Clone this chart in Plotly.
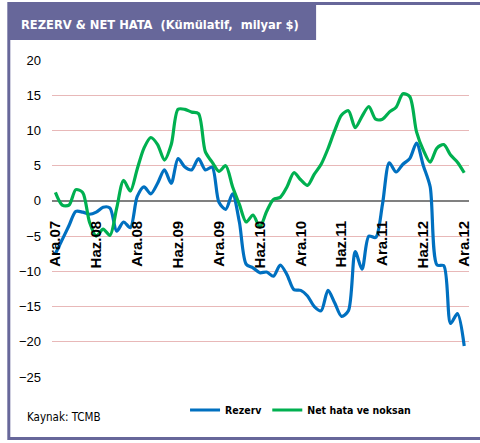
import plotly.graph_objects as go

# Monthly data Dec 2007 .. Dec 2012 (61 months)
month_index = list(range(61))
tick_positions = [0, 6, 12, 18, 24, 30, 36, 42, 48, 54, 60]
tick_labels = ["Ara.07", "Haz.08", "Ara.08", "Haz.09", "Ara.09", "Haz.10",
               "Ara.10", "Haz.11", "Ara.11", "Haz.12", "Ara.12"]

rezerv = [-7.5, -5.5, -3.5, -1.5, -1.6, -1.9, -1.6, -0.9, -1.0, -4.3,
          -3.0, -3.8, 0.6, 2.0, 1.0, 2.5, 4.4, 2.5, 6.0, 4.8,
          4.4, 6.0, 4.4, 4.8, -0.2, -1.2, 1.0, -3.0, -9.0, -9.5,
          -10.2, -10.1, -10.7, -9.1, -10.5, -12.6, -12.7, -13.5, -15.0, -15.6,
          -12.7, -14.5, -16.4, -15.6, -7.2, -9.7, -5.0, -5.2, -0.5, 5.4,
          4.1, 5.2, 6.0, 8.2, 5.0, 2.0, -9.1, -9.2, -17.4, -16.0,
          -20.6]

net_hata = [1.2, -0.6, -0.6, 1.6, 1.2, -3.0, -5.0, -4.0, -4.9, -1.0,
            2.9, 1.4, 4.5, 7.5, 9.0, 8.0, 5.8, 8.0, 13.0, 13.0,
            12.6, 12.4, 7.0, 5.5, 4.2, 5.0, 2.0, -0.5, -3.0, -2.0,
            -3.7, -1.5, 0.2, 0.5, 2.0, 4.0, 3.0, 2.2, 3.8, 5.2,
            7.4, 10.0, 12.2, 12.8, 10.4, 12.0, 13.4, 11.6, 11.6, 12.6,
            13.3, 15.2, 14.8, 9.8, 7.2, 5.5, 7.5, 8.0, 6.5, 5.5,
            4.0]

series_names = ["Rezerv", "Net hata ve noksan"]
series_colors = ["#0070C0", "#00B050"]

W, H = 480, 443
ML, MR, MT, MB = 52, 8, 60, 66
PW = W - ML - MR
PH = H - MT - MB

def px(x):
    return (x - ML) / PW

def py(y):
    return (H - MB - y) / PH

def narrow(s):
    return '<span style="font-stretch:condensed">' + s + '</span>'

cond = "DejaVu Sans"
sans = "Liberation Sans, Arial"
purple = "#67679A"

fig = go.Figure()
for name, vals, col in zip(series_names, [rezerv, net_hata], series_colors):
    fig.add_trace(go.Scatter(
        x=month_index, y=vals, name=narrow(name), mode="lines",
        line=dict(color=col, width=3.2, shape="spline", smoothing=0.8),
    ))

ymin, ymax = -25, 20
fig.update_layout(
    width=W, height=H,
    margin=dict(l=ML, r=MR, t=MT, b=MB),
    paper_bgcolor="white", plot_bgcolor="white",
    showlegend=True,
    legend=dict(orientation="h", x=px(186), y=py(410), xanchor="left", yanchor="middle",
                font=dict(family=cond, size=10.5, color="black", weight="bold"),
                itemwidth=30, tracegroupgap=0, bgcolor="rgba(0,0,0,0)"),
    xaxis=dict(range=[-0.5, 60.7], tickvals=tick_positions, ticktext=tick_labels,
               tickangle=-90, anchor="free", position=(0 - ymin) / (ymax - ymin),
               showgrid=False, zeroline=False, showline=False, ticks="",
               ticklabelstandoff=16,
               tickfont=dict(family=sans, size=15, color="black", weight="bold")),
    yaxis=dict(range=[ymin, ymax], dtick=5, showgrid=True, gridcolor="#E8B8B8", gridwidth=1,
               zeroline=True, zerolinecolor="#808080", zerolinewidth=1.5,
               showline=False, ticks="", ticklabelstandoff=10,
               tickfont=dict(family=sans, size=13, color="black")),
    shapes=[
        dict(type="rect", xref="paper", yref="paper", x0=px(8.5), x1=px(495), y0=py(438.5), y1=py(3.5),
             line=dict(color=purple, width=3), fillcolor="rgba(0,0,0,0)", layer="below"),
        dict(type="rect", xref="paper", yref="paper", x0=px(8), x1=px(318), y0=py(40), y1=py(4),
             line=dict(width=0), fillcolor=purple, layer="below"),
    ],
    annotations=[
        dict(text=narrow("REZERV &amp; NET HATA  (Kümülatif,  milyar $)"), xref="paper", yref="paper",
             x=px(19), y=py(24), xanchor="left", yanchor="middle", showarrow=False,
             font=dict(family=cond, size=12.8, color="white", weight="bold")),
        dict(text=narrow("Kaynak: TCMB"), xref="paper", yref="paper",
             x=px(25), y=py(417), xanchor="left", yanchor="middle", showarrow=False,
             font=dict(family=cond, size=11.5, color="black")),
    ],
)

fig.write_html("out.html", config={"displayModeBar": False},
               post_script="document.body.style.margin='0';document.body.style.overflow='hidden';")
